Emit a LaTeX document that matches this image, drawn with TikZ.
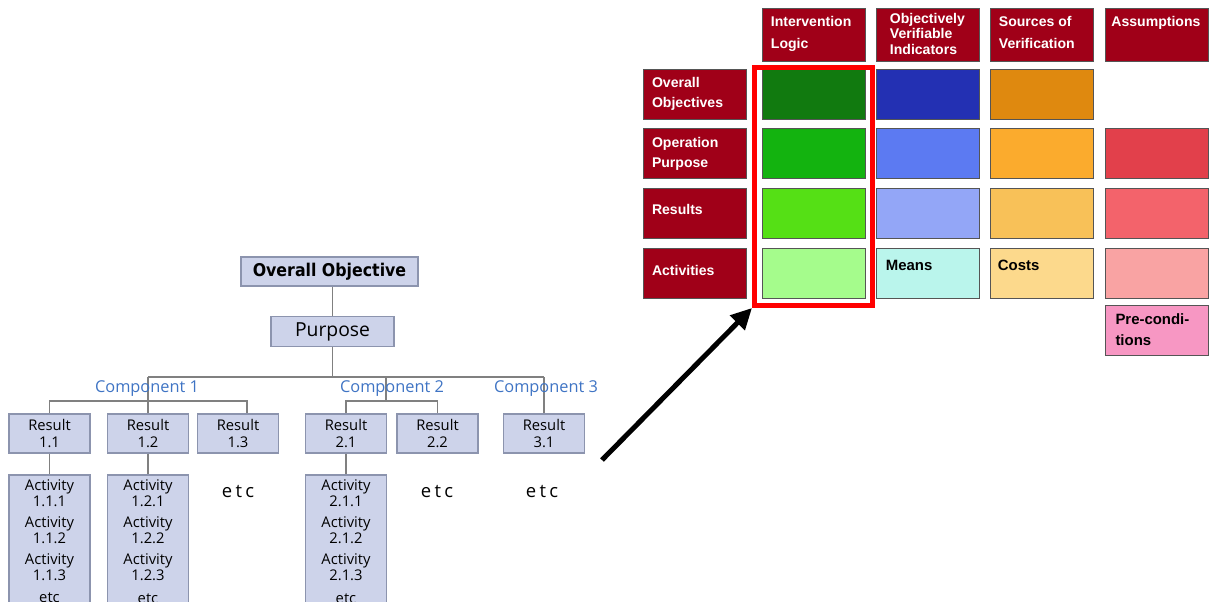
\documentclass[tikz,border=0pt]{standalone}
\usepackage{fontspec}
\setmainfont{Liberation Sans}
\newfontfamily\treefont{Open Sans}
\newfontfamily\etcfont[LetterSpace=18]{Open Sans}
\newfontfamily\headfont{DejaVu Sans Condensed}
\usetikzlibrary{positioning,arrows.meta}

\definecolor{hdred}{HTML}{A00018}
\definecolor{cellline}{HTML}{555555}
\definecolor{treefill}{HTML}{CDD3EA}
\definecolor{treeedge}{HTML}{8C94AE}
\definecolor{treeline}{HTML}{808080}
\definecolor{compblue}{HTML}{3F74C4}
% matrix colours, row by row
\definecolor{gA}{HTML}{117A0F}
\definecolor{bA}{HTML}{2330B3}
\definecolor{oA}{HTML}{DF890F}
\definecolor{gB}{HTML}{13B30F}
\definecolor{bB}{HTML}{5C7AF2}
\definecolor{oB}{HTML}{FBAB2D}
\definecolor{rB}{HTML}{E2404B}
\definecolor{gC}{HTML}{55E015}
\definecolor{bC}{HTML}{93A6F7}
\definecolor{oC}{HTML}{F8C158}
\definecolor{rC}{HTML}{F3636B}
\definecolor{gD}{HTML}{A5FC8C}
\definecolor{bD}{HTML}{BAF5EC}
\definecolor{oD}{HTML}{FCD98C}
\definecolor{rD}{HTML}{F9A3A3}
\definecolor{pE}{HTML}{F797C3}

\begin{document}
\begin{tikzpicture}[x=0.02cm, y=-0.02cm,
  hd/.style={draw=cellline, line width=0.5pt, fill=hdred, minimum width=2.06cm, minimum height=1.06cm},
  hdtxt/.style={anchor=north west, text=white, align=left, inner xsep=0.18cm, inner ysep=0.17cm,
    font=\bfseries\fontsize{8}{12.5}\selectfont},
  rowlab/.style={draw=cellline, line width=0.5pt, fill=hdred, text=white, align=left,
    minimum width=2.06cm, minimum height=1cm, text width=1.7cm, inner xsep=0.18cm,
    font=\bfseries\fontsize{8}{11.4}\selectfont},
  cell/.style={draw=cellline, line width=0.5pt, minimum width=2.06cm, minimum height=1cm},
  celltxt/.style={anchor=north west, inner xsep=0.2cm, inner ysep=0.24cm,
    font=\bfseries\fontsize{8.5}{12}\selectfont},
  tbox/.style={draw=treeedge, fill=treefill, line width=0.6pt},
  tline/.style={draw=treeline, line width=0.7pt},
  res/.style={tbox, minimum width=1.62cm, minimum height=0.78cm, align=center, inner sep=0pt,
    font=\treefont\fontsize{8.4}{9.7}\selectfont},
  act/.style={tbox, minimum width=1.62cm, minimum height=2.8cm},
  acttxt/.style={anchor=north, align=center, inner ysep=0.1cm,
    font=\treefont\fontsize{8.4}{7.7}\selectfont},
  comptxt/.style={text=compblue, font=\treefont\fontsize{9.3}{11}\selectfont},
  etctxt/.style={font=\etcfont\fontsize{10.5}{12}\selectfont}]

\useasboundingbox (0,0) rectangle (1211,602);
\clip (0,0) rectangle (1211,602);

% ---- logframe matrix ----
\node[hd] (h1) at (813.5,34.5) {};
\node[hd] (h2) at (927.5,34.5) {};
\node[hd] (h3) at (1041.5,34.5) {};
\node[hd] (h4) at (1157,34.5) {};
\node[hdtxt] (h1t) at (h1.north west) {Intervention\\Logic};
\node[hdtxt, inner ysep=0.1cm, font=\bfseries\fontsize{8}{9}\selectfont] (h2t) at ([xshift=0.1cm]h2.north west) {Objectively\\Verifiable\\Indicators};
\node[hdtxt] (h3t) at (h3.north west) {Sources of\\Verification};
\node[hdtxt, inner xsep=0.12cm] (h4t) at (h4.north west) {Assumptions};

\node[rowlab] (l1) at (694.5,94) {Overall\\Objectives};
\node[rowlab] (l2) at (694.5,153.5) {Operation\\Purpose};
\node[rowlab] (l3) at (694.5,213) {\raisebox{0.13cm}{Results}};
\node[rowlab] (l4) at (694.5,273) {\raisebox{0.11cm}{Activities}};

\node[cell, fill=gA] (c11) at (813.5,94) {};
\node[cell, fill=bA] (c12) at (927.5,94) {};
\node[cell, fill=oA] (c13) at (1041.5,94) {};

\node[cell, fill=gB] (c21) at (813.5,153.5) {};
\node[cell, fill=bB] (c22) at (927.5,153.5) {};
\node[cell, fill=oB] (c23) at (1041.5,153.5) {};
\node[cell, fill=rB] (c24) at (1157,153.5) {};

\node[cell, fill=gC] (c31) at (813.5,213) {};
\node[cell, fill=bC] (c32) at (927.5,213) {};
\node[cell, fill=oC] (c33) at (1041.5,213) {};
\node[cell, fill=rC] (c34) at (1157,213) {};

\node[cell, fill=gD] (c41) at (813.5,273) {};
\node[cell, fill=bD] (c42) at (927.5,273) {};
\node[cell, fill=oD] (c43) at (1041.5,273) {};
\node[cell, fill=rD] (c44) at (1157,273) {};
\node[celltxt] (meanst) at (c42.north west) {Means};
\node[celltxt, inner xsep=0.16cm] (costst) at (c43.north west) {Costs};

\node[cell, fill=pE, text width=1.66cm, inner xsep=0.2cm, align=left,
  font=\bfseries\fontsize{8.5}{12}\selectfont] (pre) at (1157,330) {Pre-condi-\\tions};

\node[draw=red, line width=0.1cm, minimum width=2.36cm, minimum height=4.76cm] (frame) at (813.5,186.5) {};

% ---- objective tree ----
\node[tbox, minimum width=3.54cm, minimum height=0.58cm,
  font=\headfont\bfseries\fontsize{10}{11}\selectfont] (obj) at (329.5,271.5) {Overall Objective};
\node[tbox, minimum width=2.46cm, minimum height=0.58cm,
  font=\treefont\fontsize{11}{12}\selectfont] (purp) at (332.5,331.5) {Purpose};

\node[res] (r11) at (49.5,433.5) {Result\\1.1};
\node[res] (r12) at (148,433.5) {Result\\1.2};
\node[res] (r13) at (238,433.5) {Result\\1.3};
\node[res] (r21) at (346,433.5) {Result\\2.1};
\node[res] (r22) at (437.5,433.5) {Result\\2.2};
\node[res] (r31) at (544,433.5) {Result\\3.1};

\coordinate (c1) at (148,377);
\coordinate (c2) at (386,377);
\coordinate (c3) at (544,377);
\coordinate (s1) at (148,401);
\coordinate (s2) at (386,401);

\draw[tline] (obj.south -| purp) -- (purp);
\draw[tline] (purp) -- (purp |- c1);
\draw[tline] (c1) -- (c3);
\draw[tline] (c1) -- (r12);
\draw[tline] (r11) |- (s1) -| ([xshift=0.18cm]r13.north);
\draw[tline] (c2) -- (s2);
\draw[tline] (r21) |- (s2) -| (r22);
\draw[tline] (c3) -- (r31);

\node[comptxt] (comp1) at (147,389) {Component 1};
\node[comptxt] (comp2) at (392,389) {Component 2};
\node[comptxt] (comp3) at (546,389) {Component 3};

\node[act] (a11) at (49.5,545) {};
\node[act] (a12) at (148,545) {};
\node[act] (a21) at (346,545) {};
\draw[tline] (r11) -- (a11);
\draw[tline] (r12) -- (a12);
\draw[tline] (r21) -- (a21);
\node[acttxt] (a11t) at (a11.north) {Activity\\1.1.1\\[4.2pt]Activity\\1.1.2\\[4.2pt]Activity\\1.1.3\\[5.2pt]etc};
\node[acttxt] (a12t) at (a12.north) {Activity\\1.2.1\\[4.2pt]Activity\\1.2.2\\[4.2pt]Activity\\1.2.3\\[5.2pt]etc};
\node[acttxt] (a21t) at (a21.north) {Activity\\2.1.1\\[4.2pt]Activity\\2.1.2\\[4.2pt]Activity\\2.1.3\\[5.2pt]etc};

\node[etctxt] (etc1) at (238,492) {etc};
\node[etctxt] (etc2) at (437,492) {etc};
\node[etctxt] (etc3) at (542,492) {etc};

% ---- link from tree to matrix ----
\coordinate (tail) at (602,460);
\draw[line width=0.1cm, -{Triangle[length=0.42cm, width=0.4cm]}] (tail) -- (frame.south west);
\end{tikzpicture}
\end{document}
